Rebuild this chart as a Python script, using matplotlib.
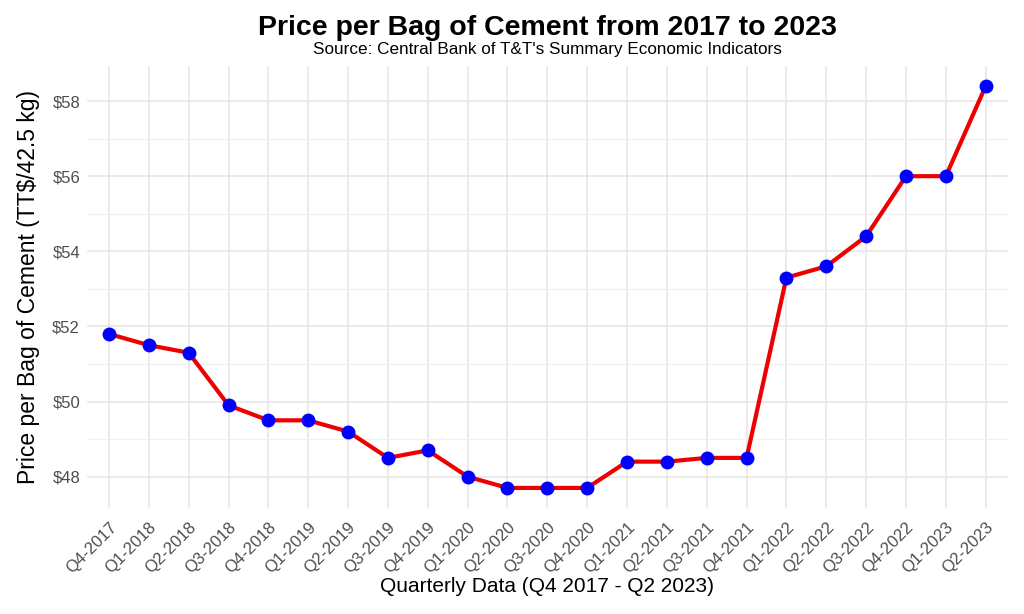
import matplotlib
matplotlib.use("Agg")
import matplotlib.pyplot as plt
from matplotlib.ticker import MultipleLocator, FuncFormatter

plt.rcParams['font.family'] = ['Liberation Sans', 'DejaVu Sans']

# quarterly cement price (TT$ per 42.5 kg bag)
quarters = ["Q4-2017", "Q1-2018", "Q2-2018", "Q3-2018", "Q4-2018",
            "Q1-2019", "Q2-2019", "Q3-2019", "Q4-2019", "Q1-2020",
            "Q2-2020", "Q3-2020", "Q4-2020", "Q1-2021", "Q2-2021",
            "Q3-2021", "Q4-2021", "Q1-2022", "Q2-2022", "Q3-2022",
            "Q4-2022", "Q1-2023", "Q2-2023"]
prices = [51.8, 51.5, 51.3, 49.9, 49.5,
          49.5, 49.2, 48.5, 48.7, 48.0,
          47.7, 47.7, 47.7, 48.4, 48.4,
          48.5, 48.5, 53.3, 53.6, 54.4,
          56.0, 56.0, 58.4]

fig = plt.figure(figsize=(10.24, 6.14), dpi=100)
ax = fig.add_axes([0.085, 0.1726, 0.899, 0.72])

x = list(range(len(quarters)))
ax.plot(x, prices, color='#EE0000', linewidth=3.0, zorder=3)
ax.plot(x, prices, 'o', color='#0000FF', markersize=9, zorder=4)

ax.set_xlim(-0.55, len(quarters) - 1 + 0.55)
span = max(prices) - min(prices)
ax.set_ylim(min(prices) - 0.05 * span, max(prices) + 0.05 * span)

ax.set_xticks(x)
ax.set_xticklabels(quarters, rotation=45, ha='right', rotation_mode='anchor')
ax.yaxis.set_major_locator(MultipleLocator(2))
ax.yaxis.set_minor_locator(MultipleLocator(1))
ax.yaxis.set_major_formatter(FuncFormatter(lambda v, p: "$%d" % v))

ax.grid(True, which='major', color='#E5E5E5', linewidth=1.1, zorder=0)
ax.grid(True, which='minor', axis='y', color='#F0F0F0', linewidth=0.9, zorder=0)
ax.tick_params(axis='both', which='both', length=0, labelsize=12, labelcolor='#4D4D4D')
ax.tick_params(axis='x', pad=8)
ax.tick_params(axis='y', pad=5)
for s in ax.spines.values():
    s.set_visible(False)

ax.set_xlabel("Quarterly Data (Q4 2017 - Q2 2023)", fontsize=15, labelpad=1)
ax.set_ylabel("Price per Bag of Cement (TT$/42.5 kg)", fontsize=16.5, labelpad=9)

fig.text(0.535, 0.955, "Price per Bag of Cement from 2017 to 2023",
         ha='center', va='center', fontsize=20.5, fontweight='bold')
fig.text(0.535, 0.919, "Source: Central Bank of T&T's Summary Economic Indicators",
         ha='center', va='center', fontsize=12.3)

fig.savefig("out.png", dpi=100, facecolor='white')
